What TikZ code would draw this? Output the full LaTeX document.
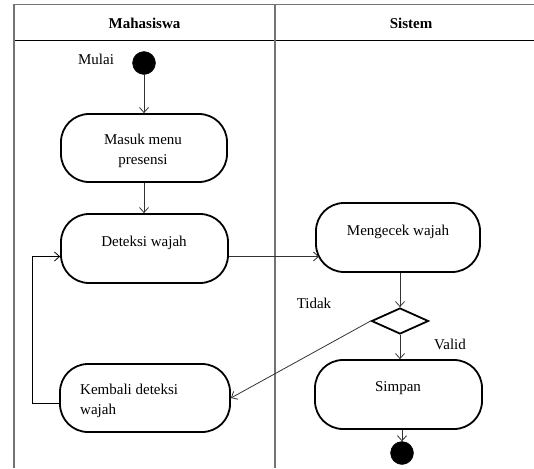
\documentclass[tikz,border=0pt]{standalone}
\usepackage{fontspec}
\setmainfont{Liberation Serif}
\usetikzlibrary{arrows.meta,shapes.geometric}
\begin{document}
\begin{tikzpicture}[x=1pt,y=-1pt,
  font=\fontsize{15}{20}\selectfont,
  actbox/.style={draw=black,line width=1.8pt,rounded corners=28pt,minimum height=68pt,inner sep=0pt},
  txt/.style={inner sep=0pt,text=black},
  arr/.style={draw=black!80,line width=0.8pt,-{Straight Barb[length=5pt,width=9pt]}},
  dot/.style={circle,fill=black,draw=black,minimum size=23pt,inner sep=0pt},
  framegray/.style={draw=black!55,line width=1.3pt}
]
\useasboundingbox (0,0) rectangle (534,468);
% swimlane frame
\draw[framegray] (14,4.5) -- (534,4.5);
\draw[draw=black,line width=1.2pt] (14,40.5) -- (534,40.5);
\draw[framegray] (14,4) -- (14,468);
\draw[framegray] (275,4) -- (275,468);
\node[txt,font=\fontsize{15}{20}\selectfont\bfseries] (h1) at (144.5,23.5) {Mahasiswa};
\node[txt,font=\fontsize{15}{20}\selectfont\bfseries] (h2) at (411,23.5) {Sistem};

% nodes
\node[dot] (start) at (144,63) {};
\node[txt] (mulai) at (96,59) {Mulai};
\node[actbox,minimum width=166pt] (b1) at (144,148) {};
\node[txt,align=center] (t1) at (143,151) {Masuk menu\\presensi};
\node[actbox,minimum width=167pt,minimum height=69pt] (b2) at (144.5,248.5) {};
\node[txt] (t2) at (144,243) {Deteksi wajah};
\node[actbox,minimum width=164pt,minimum height=69pt] (b3) at (398,237.5) {};
\node[txt] (t3) at (398,232) {Mengecek wajah};
\node[diamond,draw=black,line width=1.8pt,minimum width=57pt,minimum height=26pt,inner sep=0pt] (d) at (400,321) {};
\node[txt] (tidak) at (314,303) {Tidak};
\node[txt] (valid) at (450,344) {Valid};
\node[actbox,minimum width=167pt,minimum height=69pt] (b4) at (398.5,394.5) {};
\node[txt] (t4) at (398,388) {Simpan};
\node[dot] (end) at (402,453) {};
\node[actbox,minimum width=170pt] (b5) at (145,398) {};
\node[txt,align=left,anchor=west] (t5) at (80,401) {Kembali deteksi\\wajah};

% connectors
\coordinate (in3) at (319,256.5);
\draw[arr] (start.south) -- (b1.north);
\draw[arr] (b1.south) -- (b1.south |- b2.north);
\draw[arr] (b2.east |- in3) -- (in3);
\draw[arr] (d.north |- b3.south) -- (d.north);
\draw[arr] (d.south) -- (d.south |- b4.north);
\draw[arr] (d.west) -- (b5.east);
\draw[arr] (end.north |- b4.south) -- (end.north);
\draw[arr,draw=black] ([yshift=-5pt]b5.west) -- ++(-27,0) |- ([yshift=-8pt]b2.west);
\end{tikzpicture}
\end{document}
